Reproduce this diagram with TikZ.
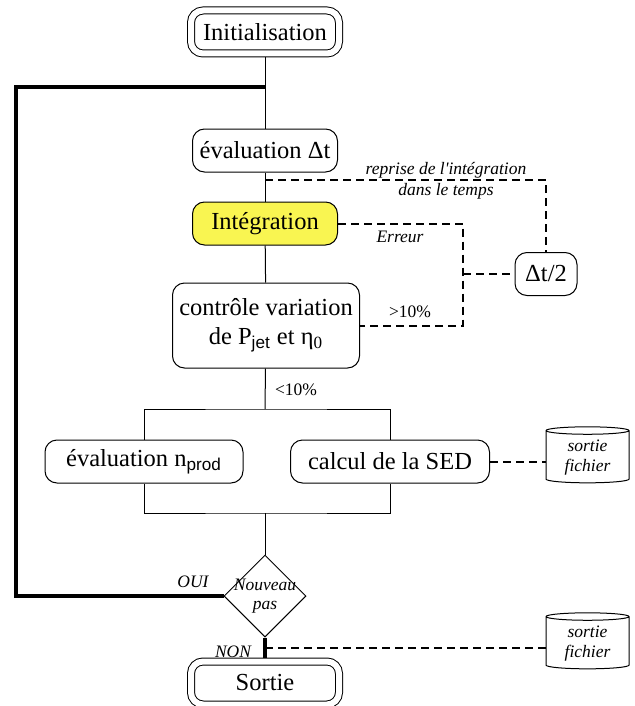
\documentclass[tikz,border=0pt]{standalone}
\usepackage{fontspec}
\setmainfont{Liberation Serif}
\setsansfont{Liberation Sans}
\usetikzlibrary{positioning,shapes.geometric,calc}
\definecolor{Jaune}{HTML}{F9F551}

\tikzset{
  bloc/.style={draw,rounded corners=6pt,align=center,inner sep=2pt,
    font=\rmfamily\fontsize{12.25}{14.5}\selectfont,minimum height=21.5pt},
  terminal/.style={bloc,double,double distance=3pt,outer sep=2pt,
    minimum width=74pt,minimum height=21.5pt},
  test/.style={draw,diamond,aspect=1,inner sep=-2.5pt,align=center,
    minimum width=41pt,minimum height=41pt,font=\rmfamily\fontsize{8.75}{9.5}\selectfont\itshape},
  fichier/.style={draw,cylinder,shape border rotate=90,aspect=0.15,align=center,
    inner sep=1pt,minimum width=41.5pt,minimum height=28pt,
    font=\rmfamily\fontsize{8.75}{10}\selectfont\itshape},
  etiq/.style={font=\rmfamily\fontsize{8.75}{10.5}\selectfont\itshape,align=center,inner sep=0pt},
  petit/.style={font=\rmfamily\fontsize{8.75}{10.5}\selectfont,inner sep=0pt},
  tirets/.style={line width=1pt,dash pattern=on 4pt off 2.5pt},
  epais/.style={line width=1.6pt},
}

\begin{document}
\begin{tikzpicture}[x=0.5pt,y=-0.5pt,line width=0.5pt]
  \useasboundingbox (0,0) rectangle (635,706);
  % colonne principale
  \node[terminal] (init) at (265,32) {Initialisation};
  \node[bloc,minimum width=72.5pt] (evdt) at (265,150.5) {évaluation Δt};
  \node[bloc,fill=Jaune,minimum width=72.5pt] (integ) at (265,223.5) {Intégration};
  \node[bloc,minimum width=93.5pt,minimum height=42.5pt] (ctrl) at (266,325.5)
    {contrôle variation\\de P\textsubscript{\sffamily jet} et η\textsubscript{0}};
  \node[bloc,minimum width=31pt] (half) at (546,274) {Δt/2};
  \node[bloc,minimum width=99pt] (nprod) at (144,461.5) {évaluation n\textsubscript{\sffamily prod}};
  \node[bloc,minimum width=99.5pt] (sed) at (390,461.5) {calcul de la SED};
  \node[test] (pas) at (265,596) {Nouveau\\pas};
  \node[terminal] (sortie) at (265,683) {Sortie};
  \node[fichier] (fich1) at (587.5,457.5) {sortie\\fichier};
  \node[fichier] (fich2) at (587.5,643.5) {sortie\\fichier};

  % points de passage
  \coordinate (boucle) at (265,87);
  \coordinate (gauche) at (16,87);
  \coordinate (reprise) at (265,180);
  \coordinate (erreur) at (463,223.5);
  \coordinate (haut) at (265,409);
  \coordinate (bas) at (265,513);
  \coordinate (non) at (265,648);

  % liaisons
  \draw (init) -- (evdt);
  \draw (evdt) -- (integ);
  \draw (integ) -- (ctrl);
  \draw (ctrl) -- (haut);
  \draw (nprod.north) |- (haut) -| (sed.north);
  \draw (nprod.south) |- (bas) -| (sed.south);
  \draw (bas) -- (pas);
  \draw[epais] (boucle) -- (gauche) |- (pas.west);
  \draw[epais] (pas.south) -- (sortie.north);

  \draw[tirets] (reprise) -| (half.north);
  \draw[tirets] (integ.east) -- (erreur) |- (ctrl.east);
  \draw[tirets] (erreur |- half.west) -- (half.west);
  \draw[tirets] (sed.east) -- (sed.east -| fich1.west);
  \draw[tirets] (non) -- (non -| fich2.west);

  % etiquettes
  \node[etiq] (lrep) at (446,180.5) {reprise de l\textquotesingle intégration\\dans le temps};
  \node[etiq] (lerr) at (400,237) {Erreur};
  \node[petit] (lsup) at (410,312) {\textgreater10\%};
  \node[petit] (linf) at (296,390) {\textless10\%};
  \node[etiq] (loui) at (193,582) {OUI};
  \node[etiq] (lnon) at (233,652) {NON};
\end{tikzpicture}
\end{document}
